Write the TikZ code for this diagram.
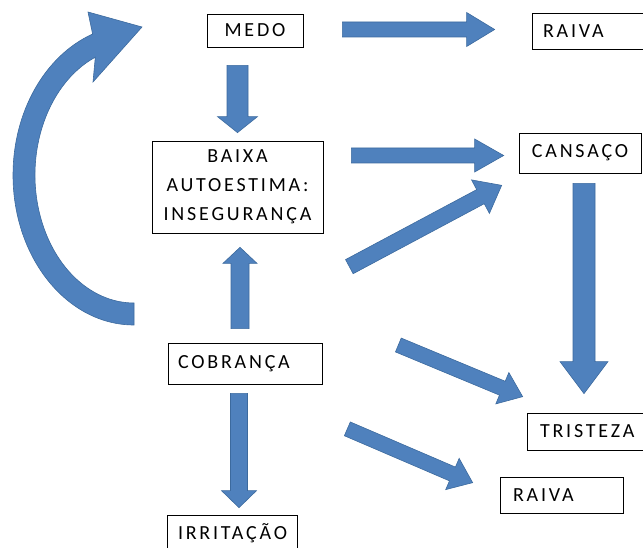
\documentclass[tikz,border=0pt]{standalone}
\usepackage{fontspec}
\setmainfont{Carlito}[LetterSpace=14]
\usetikzlibrary{calc}
\definecolor{arrowblue}{HTML}{4F81BD}
\definecolor{arrowedge}{HTML}{3C6A9E}

% block arrow: tail, tip, half shaft, half head, head length
\newcommand{\blockarrow}[5]{
	\filldraw[blockarr] let \p1=(#1), \p2=(#2), \n1={atan2(\y2-\y1,\x2-\x1)} in
		($(\p1)+(\n1+90:#3pt)$) -- ($(\p2)+(\n1+180:#5pt)+(\n1+90:#3pt)$)
		-- ($(\p2)+(\n1+180:#5pt)+(\n1+90:#4pt)$) -- (\p2)
		-- ($(\p2)+(\n1+180:#5pt)+(\n1-90:#4pt)$) -- ($(\p2)+(\n1+180:#5pt)+(\n1-90:#3pt)$)
		-- ($(\p1)+(\n1-90:#3pt)$) -- cycle;
}

\begin{document}
\begin{tikzpicture}[x=1pt, y=1pt,
	box/.style={draw=black, fill=white, line width=0.7pt, inner xsep=0pt, inner ysep=0pt, font=\fontsize{20}{29}\selectfont},
	lbox/.style={box, align=left, inner xsep=11pt, text width=#1},
	blockarr/.style={fill=arrowblue, draw=arrowedge, line width=0.6pt}]
	\useasboundingbox (0,0) rectangle (643,547);

	\node[box, minimum width=96pt, minimum height=33pt] (medo) at (255,516.5) {MEDO};
	\node[lbox=98pt, minimum height=36pt] (raiva1) at (592,516) {RAIVA};
	\node[box, align=center, minimum width=171pt, minimum height=92pt] (baixa) at (237.5,360) {BAIXA\\AUTOESTIMA:\\INSEGURANÇA};
	\node[box, minimum width=122pt, minimum height=40pt] (cansaco) at (580,394) {CANSAÇO};
	\node[lbox=134pt, inner xsep=10pt, minimum height=41pt] (cobranca) at (245,183.5) {COBRANÇA};
	\node[lbox=97pt, inner xsep=13pt, minimum height=37pt] (tristeza) at (588.5,115.5) {TRISTEZA};
	\node[lbox=97pt, inner xsep=13pt, minimum height=36pt] (raiva2) at (561.5,52) {RAIVA};
	\node[lbox=108pt, minimum height=36pt] (irritacao) at (232,14) {IRRITAÇÃO};

	\blockarrow{$(medo.south -| baixa.north)+(0,-18)$}{$(baixa.north)+(0,8)$}{10.5}{20}{16}
	\blockarrow{$(medo.east)+(39,1)$}{$(raiva1.west)+(-37,1.5)$}{7.5}{17}{28}
	\blockarrow{$(baixa.east |- cansaco.west)+(28,-2.5)$}{$(cansaco.west)+(-15,-2.5)$}{7.5}{16.5}{29}
	\blockarrow{$(cobranca.north east)+(27,76)$}{$(cansaco.south west)+(-17,-12)$}{8}{19}{24}
	\blockarrow{$(cansaco.south)+(4,-10)$}{$(tristeza.north)+(-4.5,19)$}{11}{24}{32}
	\blockarrow{$(cobranca.north)+(-5,14)$}{$(baixa.south)+(2.5,-14)$}{9}{17}{16}
	\blockarrow{$(cobranca.south)+(-6,-9)$}{$(irritacao.north)+(7,7)$}{8.5}{17.5}{17}
	\blockarrow{$(cobranca.east)+(76,18.5)$}{$(tristeza.north west)+(-4,16)$}{7.5}{17}{22}
	\blockarrow{$(cobranca.south east)+(25,-44.5)$}{$(raiva2.north west)+(-27,-6)$}{7.5}{17}{22}

	% curved arrow back to the top
	\filldraw[blockarr] (134,222) arc[start angle=270, end angle=110, x radius=121, y radius=150]
		-- (88,535) -- (142,520) -- (93,465) -- ($(134,372)+(113:99 and 128)$)
		arc[start angle=113, end angle=270, x radius=99, y radius=128] -- cycle;
\end{tikzpicture}
\end{document}
